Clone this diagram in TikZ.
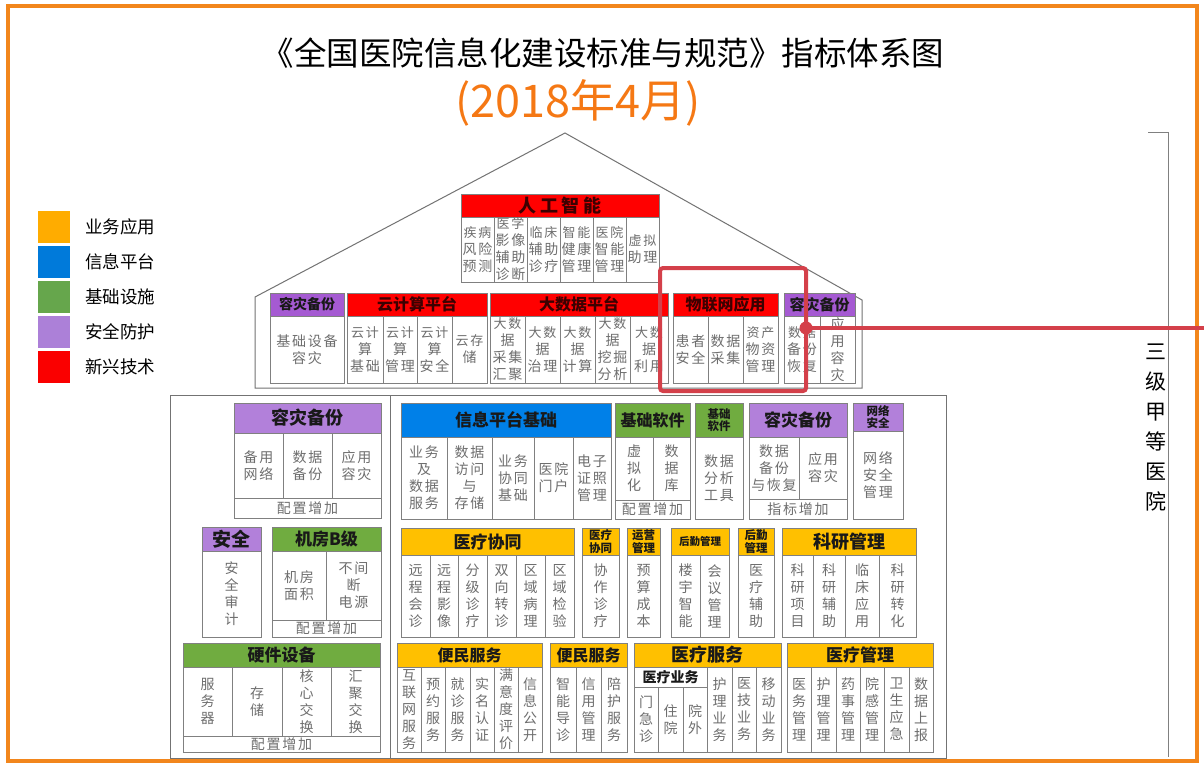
\documentclass[tikz,border=0pt]{standalone}
\usepackage{fontspec}
\setmainfont{Noto Sans CJK SC}
\newfontfamily\cellfont[LetterSpace=12]{Noto Sans CJK SC}
\usetikzlibrary{calc}
\definecolor{redH}{RGB}{255,0,0}
\definecolor{purD}{RGB}{165,90,210}
\definecolor{purL}{RGB}{178,128,218}
\definecolor{blueH}{RGB}{0,128,232}
\definecolor{greenH}{RGB}{112,172,64}
\definecolor{yelH}{RGB}{255,192,0}
\definecolor{legO}{RGB}{255,172,0}
\definecolor{legB}{RGB}{0,122,218}
\definecolor{legG}{RGB}{102,166,76}
\definecolor{legP}{RGB}{172,128,216}
\definecolor{legR}{RGB}{250,0,0}
\definecolor{frameO}{RGB}{242,134,28}
\definecolor{subO}{RGB}{245,120,20}
\definecolor{annotC}{RGB}{212,64,74}
\definecolor{lineG}{RGB}{128,128,128}
\definecolor{txtG}{RGB}{110,110,110}
\definecolor{houseG}{RGB}{115,115,115}
\definecolor{hdark}{RGB}{25,25,25}
\definecolor{rdark}{RGB}{60,0,0}
\newcommand{\cel}[6]{%
  \draw[cline] (#2,#3) rectangle (#4,#5);
  \node[ctext] (#1) at ($(#2,#3)!0.5!(#4,#5)$) {#6};}
\newcommand{\hdr}[8]{%
  \draw[cline,fill=#6] (#2,#3) rectangle (#4,#5);
  \node[htext,#7] (#1) at ($(#2,#3)!0.5!(#4,#5)$) {#8};}
\newcommand{\ls}[1]{\fontsize{14}{#1}\selectfont}
\newcommand{\sm}[1]{\fontsize{13}{#1}\selectfont}
\begin{document}
\begin{tikzpicture}[x=1pt,y=-1pt,
  cline/.style={draw=lineG, line width=0.7pt},
  house/.style={draw=houseG, line width=1pt},
  ctext/.style={font=\cellfont\fontsize{14}{17}\selectfont, text=txtG, align=center, inner sep=0pt},
  htext/.style={font=\bfseries\fontsize{16}{18}\selectfont, text=hdark, align=center, inner sep=0pt},
  rt/.style={text=rdark},
  h19/.style={font=\bfseries\fontsize{19}{21}\selectfont},
  h18/.style={font=\bfseries\fontsize{18}{20}\selectfont},
  h17/.style={font=\bfseries\fontsize{17}{19}\selectfont},
  h16/.style={font=\bfseries\fontsize{16}{18}\selectfont},
  h15/.style={font=\bfseries\fontsize{15}{17}\selectfont},
  h14/.style={font=\bfseries\fontsize{14}{16}\selectfont},
  hs/.style={font=\bfseries\fontsize{11.5}{12.5}\selectfont},
  hxs/.style={font=\bfseries\fontsize{10.5}{12}\selectfont},
  legsq/.style={minimum size=32pt, inner sep=0pt},
  legtx/.style={anchor=west, font=\fontsize{17.5}{20}\selectfont, text=black, inner sep=0pt},
  annot/.style={draw=annotC, line width=4pt}
]
\useasboundingbox (0,0) rectangle (1204,765);
\fill[white] (0,0) rectangle (1204,765);
% frame
\draw[draw=frameO, line width=4pt] (8,6) rectangle (1197,761);
% title
\node[font=\fontsize{32.5}{36}\selectfont, text=black, inner sep=0pt] (title) at (603,53) {《全国医院信息化建设标准与规范》指标体系图};
\node[font=\fontsize{45}{48}\selectfont, text=subO, inner sep=0pt] (sub) at (578,103) {(2018年4月)};
% legend
\node[legsq, fill=legO] (lg1) at (54,226.5) {};
\node[legsq, fill=legB] (lg2) at (54,262) {};
\node[legsq, fill=legG] (lg3) at (54,297) {};
\node[legsq, fill=legP] (lg4) at (54,332) {};
\node[legsq, fill=legR] (lg5) at (54,366.5) {};
\node[legtx] (lt1) at (85,226.5) {业务应用};
\node[legtx] (lt2) at (85,262) {信息平台};
\node[legtx] (lt3) at (85,297) {基础设施};
\node[legtx] (lt4) at (85,332) {安全防护};
\node[legtx] (lt5) at (85,366.5) {新兴技术};
% house outline
\draw[house] (255,388) -- (255,297) -- (565,133) -- (862,300) -- (862,388) -- cycle;
\draw[house] (170,395) rectangle (946,758);
\draw[house] (390,395) -- (390,758);
% right bracket
\draw[draw=lineG, line width=1pt] (1148,133) -- (1168,133) -- (1168,757);
\node[font=\fontsize{21}{30}\selectfont, text=black, align=center, inner sep=0pt] (lvl) at (1156,428) {三\\级\\甲\\等\\医\\院};
% AI
\hdr{ai}{461}{194}{659}{217}{redH}{h18,rt}{人\hspace{4pt}工\hspace{4pt}智\hspace{4pt}能}
\cel{ai1}{461}{217}{494}{282}{\sm{19}疾病\\风险\\预测}
\cel{ai2}{494}{217}{527}{282}{\sm{15}医学\\影像\\辅助\\诊断}
\cel{ai3}{527}{217}{560}{282}{\sm{19}临床\\辅助\\诊疗}
\cel{ai4}{560}{217}{593}{282}{\sm{19}智能\\健康\\管理}
\cel{ai5}{593}{217}{626}{282}{\sm{19}医院\\智能\\管理}
\cel{ai6}{626}{217}{659}{282}{\sm{19}虚拟\\助理}
% row 2
\hdr{rzA}{270}{293}{344}{316}{purD}{h14}{容灾备份}
\cel{rzA1}{270}{316}{344}{383}{基础设备\\容灾}
\hdr{yun}{347}{293}{487}{316}{redH}{h16,rt}{云计算平台}
\cel{yun1}{347}{316}{383}{383}{\sm{17}云计\\算\\基础}
\cel{yun2}{383}{316}{417}{383}{\sm{17}云计\\算\\管理}
\cel{yun3}{417}{316}{452}{383}{\sm{17}云计\\算\\安全}
\cel{yun4}{452}{316}{487}{383}{\sm{17}云存\\储}
\hdr{dsj}{490}{293}{668}{316}{redH}{h16,rt}{大数据平台}
\cel{dsj1}{490}{316}{525}{383}{\sm{15.5}大数\\据\\采集\\汇聚}
\cel{dsj2}{525}{316}{560}{383}{\sm{17}大数\\据\\治理}
\cel{dsj3}{560}{316}{595}{383}{\sm{17}大数\\据\\计算}
\cel{dsj4}{595}{316}{630}{383}{\sm{15.5}大数\\据\\挖掘\\分析}
\cel{dsj5}{630}{316}{668}{383}{\sm{17}大数\\据\\利用}
\hdr{iot}{673}{293}{778}{316}{redH}{h16,rt}{物联网应用}
\cel{iot1}{673}{316}{708}{383}{患者\\安全}
\cel{iot2}{708}{316}{743}{383}{数据\\采集}
\cel{iot3}{743}{316}{778}{383}{\sm{17}资产\\物资\\管理}
\hdr{rzB}{784}{293}{855}{316}{purD}{h15}{容灾备份}
\cel{rzB1}{784}{316}{820}{383}{\sm{17}数据\\备份\\恢复}
\cel{rzB2}{820}{316}{855}{383}{\ls{15.5}应\\用\\容\\灾}
% row A
\hdr{rzC}{234}{403}{381}{433}{purL}{h18}{容灾备份}
\cel{rzC1}{234}{433}{283}{498}{备用\\网络}
\cel{rzC2}{283}{433}{332}{498}{数据\\备份}
\cel{rzC3}{332}{433}{381}{498}{应用\\容灾}
\cel{rzC4}{234}{498}{381}{518}{配置增加}
\hdr{xx}{401}{403}{611}{437}{blueH}{h17}{信息平台基础}
\cel{xx1}{401}{437}{447}{519}{业务\\及\\数据\\服务}
\cel{xx2}{447}{437}{492}{519}{数据\\访问\\与\\存储}
\cel{xx3}{492}{437}{534}{519}{业务\\协同\\基础}
\cel{xx4}{534}{437}{573}{519}{医院\\门户}
\cel{xx5}{573}{437}{611}{519}{电子\\证照\\管理}
\hdr{rj}{615}{403}{690}{437}{greenH}{h16}{基础软件}
\cel{rj1}{615}{437}{653}{500}{虚\\拟\\化}
\cel{rj2}{653}{437}{690}{500}{数\\据\\库}
\cel{rj3}{615}{500}{690}{519}{配置增加}
\hdr{rjb}{695}{403}{743}{437}{greenH}{hs}{基础\\软件}
\cel{rjb1}{695}{437}{743}{519}{数据\\分析\\工具}
\hdr{rzD}{749}{403}{847}{437}{purL}{h17}{容灾备份}
\cel{rzD1}{749}{437}{799}{499}{数据\\备份\\与恢复}
\cel{rzD2}{799}{437}{847}{499}{应用\\容灾}
\cel{rzD3}{749}{499}{847}{519}{指标增加}
\hdr{wl}{853}{403}{903}{431}{purL}{hs}{网络\\安全}
\cel{wl1}{853}{431}{903}{519}{\ls{19}网络\\安全\\管理}
% row B left
\hdr{aq}{202}{527}{261}{551}{purL}{h19}{安全}
\cel{aq1}{202}{551}{261}{637}{安\\全\\审\\计}
\hdr{jf}{272}{527}{381}{551}{greenH}{h17}{机房B级}
\cel{jf1}{272}{551}{326}{620}{机房\\面积}
\cel{jf2}{326}{551}{381}{620}{不间\\断\\电源}
\cel{jf3}{272}{620}{381}{637}{配置增加}
% row B right
\hdr{xt}{401}{528}{574}{555}{yelH}{h17}{医疗协同}
\cel{xt1}{401}{555}{430}{637}{远\\程\\会\\诊}
\cel{xt2}{430}{555}{458}{637}{远\\程\\影\\像}
\cel{xt3}{458}{555}{487}{637}{分\\级\\诊\\疗}
\cel{xt4}{487}{555}{516}{637}{双\\向\\转\\诊}
\cel{xt5}{516}{555}{545}{637}{区\\域\\病\\理}
\cel{xt6}{545}{555}{574}{637}{区\\域\\检\\验}
\hdr{xtb}{582}{528}{619}{555}{yelH}{hs}{医疗\\协同}
\cel{xtb1}{582}{555}{619}{637}{协\\作\\诊\\疗}
\hdr{yy}{627}{528}{660}{555}{yelH}{hs}{运营\\管理}
\cel{yy1}{627}{555}{660}{637}{预\\算\\成\\本}
\hdr{hq}{671}{528}{729}{555}{yelH}{hxs}{后勤管理}
\cel{hq1}{671}{555}{700}{637}{楼\\宇\\智\\能}
\cel{hq2}{700}{555}{729}{637}{会\\议\\管\\理}
\hdr{hqb}{738}{528}{774}{555}{yelH}{hs}{后勤\\管理}
\cel{hqb1}{738}{555}{774}{637}{医\\疗\\辅\\助}
\hdr{ky}{782}{528}{916}{555}{yelH}{h18}{科研管理}
\cel{ky1}{782}{555}{813}{637}{科\\研\\项\\目}
\cel{ky2}{813}{555}{845}{637}{科\\研\\辅\\助}
\cel{ky3}{845}{555}{879}{637}{临\\床\\应\\用}
\cel{ky4}{879}{555}{916}{637}{科\\研\\转\\化}
% row C left
\hdr{yj}{183}{643}{380}{667}{greenH}{h17}{硬件设备}
\cel{yj1}{183}{667}{232}{736}{服\\务\\器}
\cel{yj2}{232}{667}{282}{736}{存\\储}
\cel{yj3}{282}{667}{331}{736}{\ls{16}核\\心\\交\\换}
\cel{yj4}{331}{667}{380}{736}{\ls{16}汇\\聚\\交\\换}
\cel{yj5}{183}{736}{380}{752}{配置增加}
% row C right
\hdr{bm}{397}{643}{542}{667}{yelH}{h16}{便民服务}
\cel{bm1}{397}{667}{421}{752}{\ls{16.5}互\\联\\网\\服\\务}
\cel{bm2}{421}{667}{445}{752}{预\\约\\服\\务}
\cel{bm3}{445}{667}{470}{752}{就\\诊\\服\\务}
\cel{bm4}{470}{667}{494}{752}{实\\名\\认\\证}
\cel{bm5}{494}{667}{518}{752}{\ls{16.5}满\\意\\度\\评\\价}
\cel{bm6}{518}{667}{542}{752}{信\\息\\公\\开}
\hdr{bmb}{550}{643}{627}{667}{yelH}{h16}{便民服务}
\cel{bmb1}{550}{667}{576}{752}{智\\能\\导\\诊}
\cel{bmb2}{576}{667}{601}{752}{信\\用\\管\\理}
\cel{bmb3}{601}{667}{627}{752}{陪\\护\\服\\务}
\hdr{yf}{634}{643}{781}{667}{yelH}{h18}{医疗服务}
\hdr{yfs}{634}{667}{707}{687}{white}{h14}{医疗业务}
\cel{yf1}{634}{687}{658}{752}{门\\急\\诊}
\cel{yf2}{658}{687}{683}{752}{住\\院}
\cel{yf3}{683}{687}{707}{752}{院\\外}
\cel{yf4}{707}{667}{732}{752}{护\\理\\业\\务}
\cel{yf5}{732}{667}{756}{752}{医\\技\\业\\务}
\cel{yf6}{756}{667}{781}{752}{移\\动\\业\\务}
\hdr{yg}{787}{643}{933}{667}{yelH}{h17}{医疗管理}
\cel{yg1}{787}{667}{811}{752}{医\\务\\管\\理}
\cel{yg2}{811}{667}{836}{752}{护\\理\\管\\理}
\cel{yg3}{836}{667}{860}{752}{药\\事\\管\\理}
\cel{yg4}{860}{667}{884}{752}{院\\感\\管\\理}
\cel{yg5}{884}{667}{909}{752}{卫\\生\\应\\急}
\cel{yg6}{909}{667}{933}{752}{数\\据\\上\\报}
% annotation
\draw[annot, rounded corners=3pt] (660,268) rectangle (806,391);
\coordinate (dot) at (806,328);
\coordinate (rend) at (1204,328);
\draw[annot] (dot) -- (rend);
\fill[annotC] (dot) circle (6.5);
\end{tikzpicture}
\end{document}
